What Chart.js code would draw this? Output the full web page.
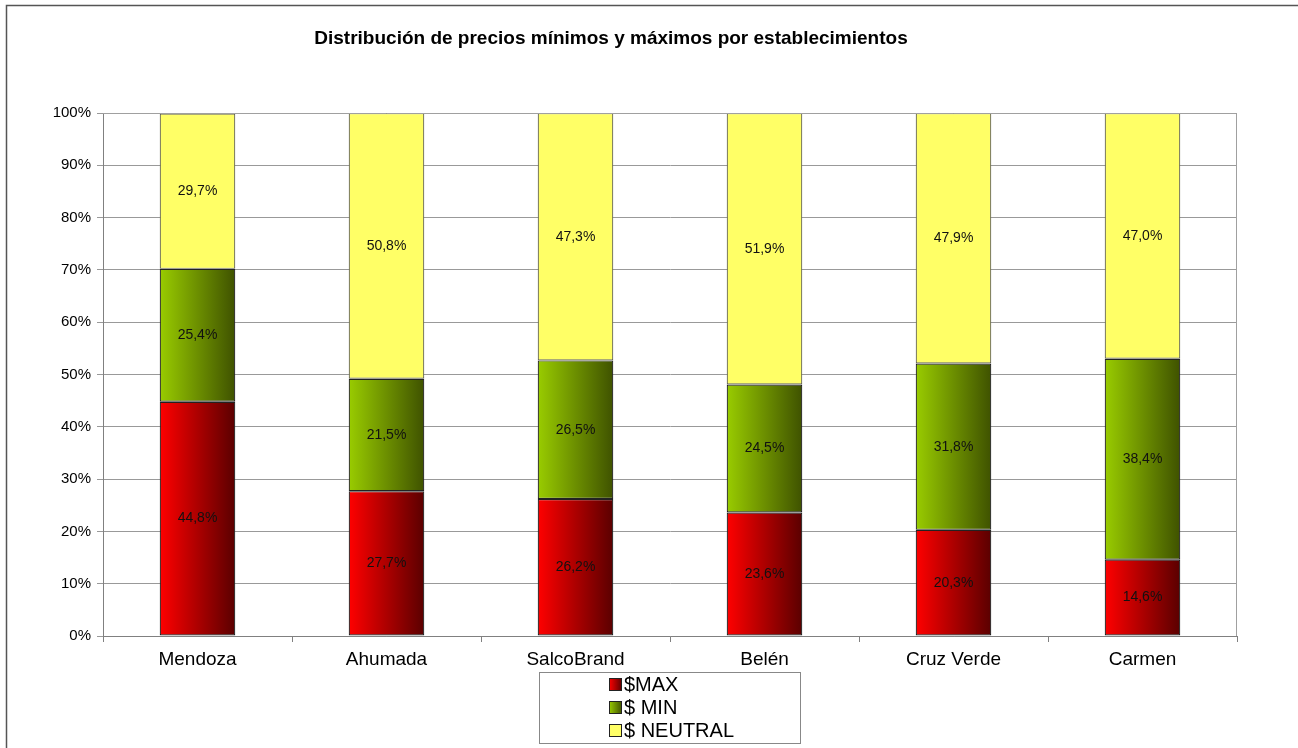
<!DOCTYPE html>
<html>
<head>
<meta charset="utf-8">
<script src="https://cdn.jsdelivr.net/npm/chart.js@4.4.0/dist/chart.umd.min.js"></script>
<style>
html,body{margin:0;padding:0;background:#fff;}
#wrap{width:1298px;height:748px;position:relative;}
</style>
</head>
<body>
<div id="wrap"><canvas id="c" width="1298" height="748"></canvas></div>
<script>
const categories = ["Mendoza", "Ahumada", "SalcoBrand", "Belén", "Cruz Verde", "Carmen"];
const maxValues = [44.8, 27.7, 26.2, 23.6, 20.3, 14.6];
const minValues = [25.4, 21.5, 26.5, 24.5, 31.8, 38.4];
const neutralValues = [29.7, 50.8, 47.3, 51.9, 47.9, 47.0];
const seriesNames = ["$MAX", "$ MIN", "$ NEUTRAL"];
const yTicks = [0, 10, 20, 30, 40, 50, 60, 70, 80, 90, 100];
const titleText = "Distribución de precios mínimos y máximos por establecimientos";

const FONT = "'Liberation Sans', Arial, sans-serif";
const BAR_PCT = 0.4;

function grad(c1, c2) {
  return function (ctx) {
    const chart = ctx.chart;
    const xs = chart.scales && chart.scales.x;
    if (!chart.chartArea || !xs || ctx.dataIndex === undefined) return c1;
    const cx = xs.getPixelForValue(ctx.dataIndex);
    const cw = xs.width / categories.length * BAR_PCT;
    const g = chart.ctx.createLinearGradient(cx - cw / 2, 0, cx + cw / 2, 0);
    g.addColorStop(0, c1);
    g.addColorStop(1, c2);
    return g;
  };
}

const colorsFlat = [["#ff0000", "#5a0000"], ["#99cc00", "#3f5200"], ["#ffff66", "#ffff66"]];
const borderColors = ["#222", "#222", "#6a6a50"];

const framePlugin = {
  id: 'frame',
  beforeDraw(chart) {
    const c = chart.ctx;
    c.save();
    c.fillStyle = '#fff';
    c.fillRect(0, 0, chart.width, chart.height);
    c.strokeStyle = '#555';
    c.lineWidth = 1.5;
    c.beginPath();
    c.moveTo(6.5, 760);
    c.lineTo(6.5, 5.5);
    c.lineTo(1310, 5.5);
    c.stroke();
    // title
    c.fillStyle = '#000';
    c.font = "bold 19px " + FONT;
    c.textAlign = 'center';
    c.textBaseline = 'middle';
    c.fillText(titleText, 611, 39);
    c.restore();
  },
  afterDatasetsDraw(chart) {
    const c = chart.ctx;
    const a = chart.chartArea;
    c.save();
    // plot frame top/right
    c.strokeStyle = '#a0a0a0';
    c.lineWidth = 1;
    c.beginPath();
    c.moveTo(a.left, a.top + 0.5);
    c.lineTo(a.right - 0.5, a.top + 0.5);
    c.lineTo(a.right - 0.5, a.bottom);
    c.stroke();
    // data labels
    c.font = "14px " + FONT;
    c.fillStyle = '#111';
    c.textAlign = 'center';
    c.textBaseline = 'middle';
    chart.data.datasets.forEach((ds, di) => {
      const meta = chart.getDatasetMeta(di);
      meta.data.forEach((el, i) => {
        const y = (el.y + el.base) / 2;
        c.fillText(ds.data[i].toFixed(1).replace('.', ',') + '%', el.x, y);
      });
    });
    c.restore();
  },
  afterDraw(chart) {
    const c = chart.ctx;
    c.save();
    // legend box
    c.strokeStyle = '#888';
    c.lineWidth = 1;
    c.strokeRect(539.5, 672.5, 261, 71);
    c.font = "20px " + FONT;
    c.textAlign = 'left';
    c.textBaseline = 'middle';
    const ys = [684, 707, 730];
    seriesNames.forEach((n, i) => {
      const x0 = 609, s = 13, y0 = ys[i] - 6;
      const g = c.createLinearGradient(x0, 0, x0 + s, 0);
      g.addColorStop(0, colorsFlat[i][0]);
      g.addColorStop(1, colorsFlat[i][1]);
      c.fillStyle = g;
      c.fillRect(x0, y0, s, s);
      c.strokeStyle = '#222';
      c.strokeRect(x0 + 0.5, y0 + 0.5, s - 1, s - 1);
      c.fillStyle = '#000';
      c.fillText(n, 624, ys[i] + 1);
    });
    c.restore();
  }
};

new Chart(document.getElementById('c'), {
  type: 'bar',
  data: {
    labels: categories,
    datasets: [
      { label: seriesNames[0], data: maxValues, backgroundColor: grad(colorsFlat[0][0], colorsFlat[0][1]), borderColor: borderColors[0] },
      { label: seriesNames[1], data: minValues, backgroundColor: grad(colorsFlat[1][0], colorsFlat[1][1]), borderColor: borderColors[1] },
      { label: seriesNames[2], data: neutralValues, backgroundColor: colorsFlat[2][0], borderColor: borderColors[2] }
    ].map(d => Object.assign(d, {
      borderWidth: 1.2, borderSkipped: false,
      barPercentage: BAR_PCT, categoryPercentage: 1
    }))
  },
  options: {
    responsive: false,
    animation: false,
    events: [],
    layout: { padding: { left: 0, right: 61, top: 113, bottom: 0 } },
    plugins: { legend: { display: false }, title: { display: false }, tooltip: { enabled: false } },
    scales: {
      x: {
        stacked: true,
        afterFit(s) { s.height = 112; },
        grid: { offset: true, drawOnChartArea: false, drawTicks: true, tickLength: 6, color: '#808080' },
        border: { display: true, color: '#808080', width: 1 },
        ticks: { color: '#000', font: { family: FONT, size: 19 }, padding: 6 }
      },
      y: {
        stacked: true,
        min: 0, max: 100,
        afterFit(s) { s.width = 103; },
        afterBuildTicks(s) { s.ticks = yTicks.map(v => ({ value: v })); },
        grid: { color: '#999', tickLength: 6 },
        border: { display: true, color: '#808080', width: 1 },
        ticks: { color: '#000', font: { family: FONT, size: 15 }, padding: 6, callback: v => v + '%' }
      }
    }
  },
  plugins: [framePlugin]
});
</script>
</body>
</html>
